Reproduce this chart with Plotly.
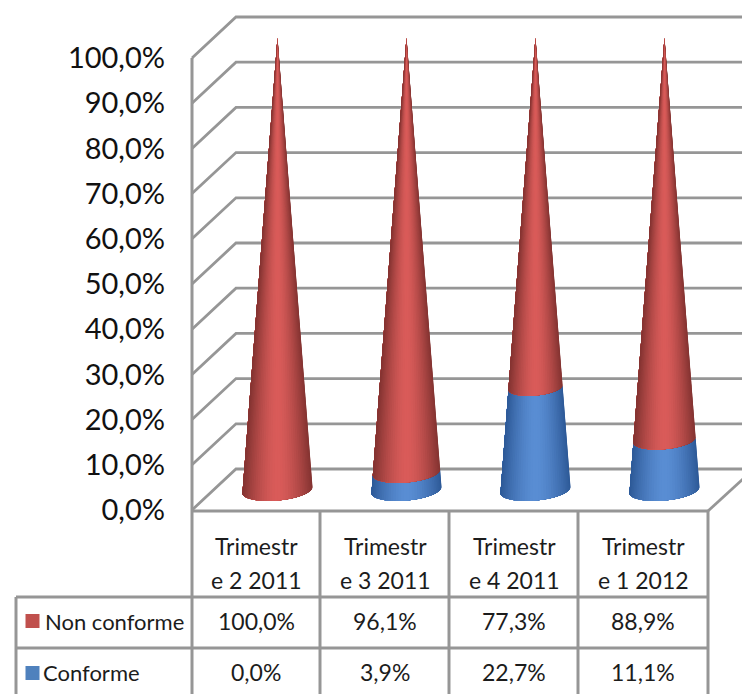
import math
import plotly.graph_objects as go

categories_line1 = ["Trimestr", "Trimestr", "Trimestr", "Trimestr"]
categories_line2 = ["e 2 2011", "e 3 2011", "e 4 2011", "e 1 2012"]
non_conforme = [100.0, 96.1, 77.3, 88.9]
conforme = [0.0, 3.9, 22.7, 11.1]
y_ticks = [0, 10, 20, 30, 40, 50, 60, 70, 80, 90, 100]

W, H = 742, 694
PX_PER_PCT = 4.52
PX_PER_CAT = 129.0
X0_PX = 256.0   # pixel of category 0 (front)
Y0_PX = 510.0   # pixel of value 0 (front)
FONT = "Lato, sans-serif"
GRID = "#969696"
TXT = "#1c1c1c"


def fx(px):
    return (px - X0_PX) / PX_PER_CAT


def fy(py):
    return (Y0_PX - py) / PX_PER_PCT


def lerp(a, b, t):
    return tuple(a[i] + (b[i] - a[i]) * t for i in range(3))


fig = go.Figure()


def line(xs, ys, width=2.8, color=GRID):
    fig.add_trace(go.Scatter(x=[fx(v) for v in xs], y=[fy(v) for v in ys], mode="lines",
                             line=dict(color=color, width=width), hoverinfo="skip",
                             showlegend=False))


# 3D walls: gridlines on back wall and side wall, drawn from tick values
DEPTH_X, DEPTH_Y = 44, 41
for v in y_ticks:
    p = Y0_PX - v * PX_PER_PCT
    line([192, 192 + DEPTH_X, W + 2], [p, p - DEPTH_Y, p - DEPTH_Y])
line([192, 192], [Y0_PX - 100 * PX_PER_PCT, H + 2], 3)
line([708, W + 2], [511, 478])

# data table grid
line([192, 708], [511, 511], 3)
for xp in [320, 449, 578, 708]:
    line([xp, xp], [511, H + 2], 3)
line([16, 16], [597, H + 2], 3)
for yp in [597, 648]:
    line([16, 708], [yp, yp], 3)

# cones
R_PX, B_PX, TILT_PX = 35.0, 10.5, 3.0
CONE_DX, CONE_DY = 21.5, 20.0
STRIPS = 40
RED = ((132, 52, 50), (218, 92, 90))
BLUE = ((46, 90, 152), (90, 142, 212))


def point(cx, h, theta):
    k = 1 - h / 100
    return (cx + R_PX * k * math.cos(theta),
            Y0_PX - CONE_DY - h * PX_PER_PCT + B_PX * k * math.sin(theta) - TILT_PX * k * math.cos(theta))


def segment(i, h0, h1, colors):
    if h1 - h0 <= 0:
        return
    cx = X0_PX + i * PX_PER_CAT + CONE_DX
    # painter's order: each polygon spans from its angle to the far edge, so no seams appear
    for s in range(STRIPS):
        a = math.pi * s / STRIPS
        u = abs(math.cos(a + math.pi / STRIPS / 2))
        c = lerp(colors[1], colors[0], u ** 1.6)
        col = "rgb(%d,%d,%d)" % tuple(int(x) for x in c)
        angles = [a + (math.pi - a) * q / 20 for q in range(21)]
        pts = [point(cx, h0, t) for t in angles] + [point(cx, h1, t) for t in reversed(angles)]
        pts.append(pts[0])
        fig.add_trace(go.Scatter(x=[fx(p[0]) for p in pts], y=[fy(p[1]) for p in pts],
                                 mode="none", fill="toself", fillcolor=col,
                                 hoverinfo="skip", showlegend=False))


for i in range(len(non_conforme)):
    segment(i, 0, conforme[i], BLUE)
    segment(i, conforme[i], conforme[i] + non_conforme[i], RED)

# legend keys
fig.add_trace(go.Scatter(x=[fx(32.5)], y=[fy(621)], mode="markers",
                         marker=dict(symbol="square", size=14, color="#c0504d"),
                         name="Non conforme", showlegend=False, hoverinfo="skip"))
fig.add_trace(go.Scatter(x=[fx(32.5)], y=[fy(673)], mode="markers",
                         marker=dict(symbol="square", size=14, color="#4f81bd"),
                         name="Conforme", showlegend=False, hoverinfo="skip"))


def label(xp, yp, text, anchor="center", size=23):
    fig.add_annotation(x=fx(xp), y=fy(yp), xref="x", yref="y", text=text, showarrow=False,
                       xanchor=anchor, yanchor="middle", font=dict(family=FONT, size=size, color=TXT))


pct = lambda v: f"{v:.1f}".replace(".", ",") + "%"
for i in range(len(non_conforme)):
    xc = X0_PX + i * PX_PER_CAT
    label(xc, 546, categories_line1[i])
    label(xc, 580, categories_line2[i])
    label(xc, 621, pct(non_conforme[i]))
    label(xc, 672, pct(conforme[i]))
label(43, 621, "Non conforme", "left", 22)
label(41, 672, "Conforme", "left", 22)

fig.update_layout(
    width=W, height=H, margin=dict(l=0, r=0, t=0, b=0),
    paper_bgcolor="white", plot_bgcolor="white", showlegend=False,
    xaxis=dict(range=[fx(0), fx(W)], visible=False, fixedrange=True),
    yaxis=dict(range=[fy(H), fy(0)], anchor="free", position=192 / W, side="left",
               tickmode="array", tickvals=y_ticks, ticktext=[pct(v) for v in y_ticks],
               tickfont=dict(family=FONT, size=29, color="#111111"),
               ticks="", showgrid=False, zeroline=False, showline=False,
               ticklabelstandoff=27, fixedrange=True),
)

fig.write_html("out.html", config={"displayModeBar": False},
               post_script="document.body.style.margin='0';document.body.style.overflow='hidden';")
